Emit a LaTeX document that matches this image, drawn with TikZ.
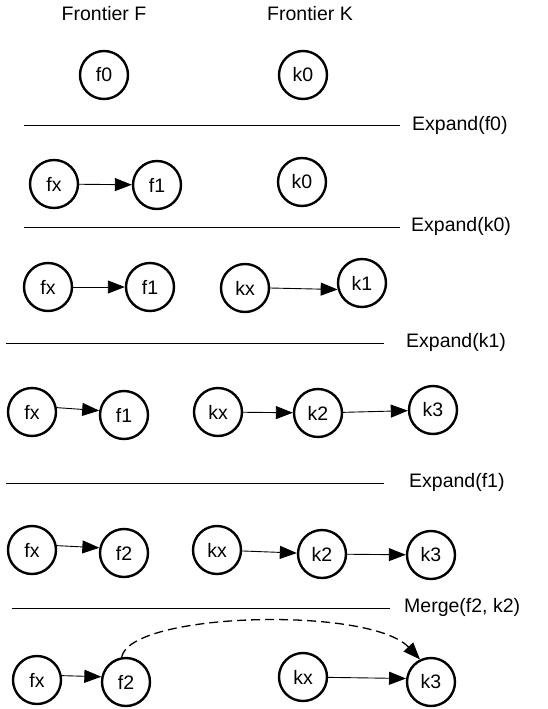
\documentclass[tikz,border=0pt]{standalone}
\usepackage{fontspec}
\setmainfont{Liberation Sans}
\usetikzlibrary{arrows.meta}
\begin{document}
\begin{tikzpicture}[x=1pt,y=-1pt,
  st/.style={circle,draw,line width=2.4pt,minimum size=48pt,inner sep=0pt,font=\fontsize{19.5}{22}\selectfont},
  lbl/.style={font=\fontsize{19.5}{22}\selectfont,inner sep=0pt},
  sep/.style={line width=1pt},
  ar/.style={line width=0.9pt,-{Triangle[length=17pt,width=13pt]}},
  merge/.style={line width=1.3pt,dash pattern=on 9pt off 5pt,-{Triangle[length=17pt,width=13pt]}}]
\useasboundingbox (0,0) rectangle (547,709);

% headers
\node[lbl] (hf) at (104,14) {Frontier F};
\node[lbl] (hk) at (310,14) {Frontier K};

% row 1
\node[st] (a-f0) at (104,75) {f0};
\node[st] (a-k0) at (303,75) {k0};
\coordinate (l1a) at (24,125); \coordinate (l1b) at (400,125);
\draw[sep] (l1a) -- (l1b);
\node[lbl,anchor=west] (t1) at (412,125) {Expand(f0)};

% row 2
\node[st] (b-fx) at (54,184) {fx};
\node[st] (b-f1) at (157,185) {f1};
\node[st] (b-k0) at (302,182) {k0};
\draw[ar] (b-fx) -- (b-f1);
\coordinate (l2a) at (24,227); \coordinate (l2b) at (400,227);
\draw[sep] (l2a) -- (l2b);
\node[lbl,anchor=west] (t2) at (411,226) {Expand(k0)};

% row 3
\node[st] (c-fx) at (48,287) {fx};
\node[st] (c-f1) at (150,287) {f1};
\node[st] (c-kx) at (245,288) {kx};
\node[st] (c-k1) at (362,283) {k1};
\draw[ar] (c-fx) -- (c-f1);
\draw[ar] (c-kx.east) -- (c-k1.195);
\coordinate (l3a) at (6,343); \coordinate (l3b) at (384,343);
\draw[sep] (l3a) -- (l3b);
\node[lbl,anchor=west] (t3) at (406,342) {Expand(k1)};

% row 4
\node[st] (d-fx) at (32,412) {fx};
\node[st] (d-f1) at (124,415) {f1};
\node[st] (d-kx) at (218,412) {kx};
\node[st] (d-k2) at (318,413) {k2};
\node[st] (d-k3) at (433,410) {k3};
\draw[ar] (d-fx.10) -- (d-f1.170);
\draw[ar] (d-kx) -- (d-k2);
\draw[ar] (d-k2) -- (d-k3);
\coordinate (l4a) at (6,483); \coordinate (l4b) at (384,483);
\draw[sep] (l4a) -- (l4b);
\node[lbl,anchor=west] (t4) at (409,482) {Expand(f1)};

% row 5
\node[st] (e-fx) at (32,550) {fx};
\node[st] (e-f2) at (124,553) {f2};
\node[st] (e-kx) at (217,550) {kx};
\node[st] (e-k2) at (322,554) {k2};
\node[st] (e-k3) at (431,555) {k3};
\draw[ar] (e-fx.10) -- (e-f2.168);
\draw[ar] (e-kx) -- (e-k2);
\draw[ar] (e-k2) -- (e-k3);
\coordinate (l5a) at (12,608); \coordinate (l5b) at (390,608);
\draw[sep] (l5a) -- (l5b);
\node[lbl,anchor=west] (t5) at (404,607) {Merge(f2, k2)};

% row 6
\node[st] (g-fx) at (37,680) {fx};
\node[st] (g-f2) at (126,682) {f2};
\node[st] (g-kx) at (303,677) {kx};
\node[st] (g-k3) at (431,682) {k3};
\draw[ar] (g-fx.10) -- (g-f2.168);
\draw[ar] (g-kx) -- (g-k3.172);
\draw[merge] (g-f2.100) .. controls (130,612) and (370,606) .. (g-k3.116);
\end{tikzpicture}
\end{document}
